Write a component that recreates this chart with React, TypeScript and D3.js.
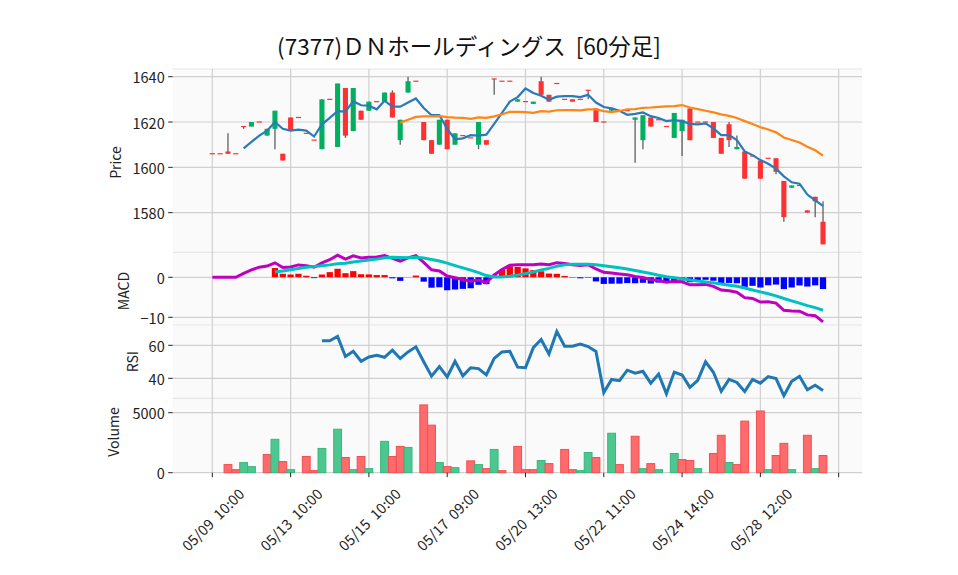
import React from 'react';
import * as d3 from 'd3';

const title = '(7377)ＤＮホールディングス  [60分足]';

const openP = [1606,1606,1607,1606,1618,1618,1620,1614,1617,1606,1622,1622,1615,1612,1608,1630,1609,1635,1616,1625,1625,1629,1629,1633,1612,1633,1638,1620,1612,1610,1621,1610,1614,1613,1610,1612,1639,1638,1638,1629,1629,1628,1638,1632,1637,1630,1630,1630,1634,1626,1620,1625,1625,1625,1621,1612,1622,1621,1618,1613,1616,1626,1620,1620,1620,1613,1619,1608,1607,1605,1603,1604,1604,1594,1591,1592,1581,1587,1576];
const highP = [1606,1606,1615,1606,1618,1620,1620,1617,1625,1606,1622,1622,1615,1612,1630,1630,1637,1635,1635,1625,1629,1629,1633,1634,1621,1640,1638,1620,1612,1621,1621,1615,1614,1613,1620,1612,1639,1638,1638,1630,1629,1629,1640,1632,1637,1630,1630,1630,1634,1626,1620,1626,1625,1625,1622,1623,1622,1621,1618,1624,1621,1626,1620,1620,1620,1613,1620,1614,1607,1605,1603,1604,1604,1594,1592,1592,1581,1587,1585];
const lowP = [1606,1606,1606,1606,1617,1618,1620,1614,1608,1603,1616,1622,1615,1612,1608,1630,1609,1613,1616,1621,1625,1629,1629,1622,1610,1633,1638,1612,1606,1610,1608,1610,1614,1613,1608,1610,1632,1638,1638,1629,1629,1628,1632,1629,1637,1630,1629,1630,1630,1620,1620,1624,1625,1625,1602,1608,1618,1621,1618,1613,1605,1612,1620,1620,1613,1606,1609,1608,1595,1605,1595,1604,1597,1576,1591,1592,1580,1578,1566];
const closeP = [1606,1606,1606,1606,1618,1620,1620,1617,1625,1603,1616,1622,1615,1612,1630,1630,1637,1614,1635,1621,1629,1629,1633,1622,1621,1638,1638,1612,1606,1621,1608,1615,1614,1613,1620,1610,1639,1638,1638,1630,1629,1629,1632,1629,1637,1630,1629,1630,1634,1620,1620,1626,1625,1625,1622,1623,1618,1621,1618,1624,1621,1612,1620,1620,1613,1606,1612,1609,1595,1605,1595,1604,1598,1578,1592,1592,1580,1585,1566];
const volume = [0,0,675,253,843,506,0,1517,2782,927,253,0,1349,169,2023,0,3625,1265,253,1349,337,0,2613,1349,2192,2108,0,5648,3962,843,506,422,0,985,675,337,1939,169,0,2192,253,253,1012,759,0,1939,253,169,1686,1265,0,3288,675,0,3035,337,759,253,0,1602,1096,1012,337,0,1602,3119,843,675,4299,0,5142,253,1433,2445,253,0,3119,337,1433];

const tickIdx = [0, 10, 20, 30, 40, 50, 60, 70, 80];
const tickLabels = ['05/09  10:00', '05/13  10:00', '05/15  10:00', '05/17  09:00', '05/20  13:00', '05/22  11:00', '05/24  14:00', '05/28  12:00', ''];

const priceTicks = [1580, 1600, 1620, 1640];
const macdTicks = [0, -10];
const rsiTicks = [40, 60];
const volTicks = [0, 5000];

function sma(arr: number[], n: number): (number | null)[] {
  return arr.map((_, i) => (i < n - 1 ? null : (d3.mean(arr.slice(i - n + 1, i + 1)) as number)));
}
function ema(arr: number[], span: number): number[] {
  const k = 2 / (span + 1);
  let prev = arr[0];
  return arr.map((v, i) => (prev = i === 0 ? v : prev + k * (v - prev)));
}

const ma5 = sma(closeP, 5);
const ma25 = sma(closeP, 25);
const ema12 = ema(closeP, 12);
const ema26 = ema(closeP, 26);
const macd = ema12.map((v, i) => v - ema26[i]);
const signal = sma(macd, 9);
const hist = macd.map((v, i) => (signal[i] === null ? null : v - (signal[i] as number)));
const rsi: (number | null)[] = closeP.map((_, i) => {
  if (i < 14) return null;
  let g = 0, l = 0;
  for (let j = i - 13; j <= i; j++) {
    const d = closeP[j] - closeP[j - 1];
    if (d > 0) g += d; else l -= d;
  }
  return (100 * g) / (g + l);
});

const FONT = '"Noto Sans CJK JP", "DejaVu Sans", sans-serif';
const X0 = 172.7, X1 = 862;
const P = { top: 69, bot: 252.3 };
const M = { top: 252.3, bot: 325 };
const R = { top: 325, bot: 398.3 };
const V = { top: 398.3, bot: 472.7 };

export default function App() {
  const x = d3.scaleLinear().domain([-5.06, 82.98]).range([X0, X1]);
  const yP = d3.scaleLinear().domain([1562.5, 1643.4]).range([P.bot, P.top]);
  const yM = d3.scaleLinear().domain([-11.93, 6.25]).range([M.bot, M.top]);
  const yR = d3.scaleLinear().domain([27.88, 72.3]).range([R.bot, R.top]);
  const yV = d3.scaleLinear().domain([0, 6200]).range([V.bot, V.top]);
  const step = x(1) - x(0);
  const cw = step * 0.65;

  const lineOf = (ys: d3.ScaleLinear<number, number>) =>
    d3.line<number | null>()
      .defined((d) => d !== null)
      .x((_, i) => x(i))
      .y((d) => ys(d as number));

  const up = '#00b060', down = '#fe3032';
  const grid = '#d0d0d0';

  const yAxis = (ticks: number[], ys: d3.ScaleLinear<number, number>, fmt: (v: number) => string) =>
    ticks.map((t) => (
      <g key={t}>
        <line x1={X0} x2={X1} y1={ys(t)} y2={ys(t)} stroke={grid} strokeWidth={1.2} />
        <line x1={X0 - 4.5} x2={X0} y1={ys(t)} y2={ys(t)} stroke="#222" strokeWidth={1} />
        <text x={X0 - 8} y={ys(t)} textAnchor="end" dominantBaseline="central" fontSize={14.5} fill="#222">
          {fmt(t)}
        </text>
      </g>
    ));

  return (
    <svg width={958} height={575} style={{ position: 'absolute', left: 0, top: 0, fontFamily: FONT }}>
      <rect x={0} y={0} width={958} height={575} fill="#ffffff" />
      <rect x={X0} y={P.top} width={X1 - X0} height={V.bot - P.top} fill="#fafafa" />
      {[P.top, M.top, R.top, V.top].map((y) => (
        <line key={y} x1={X0} x2={X1} y1={y} y2={y} stroke="#e6e6e6" strokeWidth={1.2} />
      ))}
      {tickIdx.map((t) => (
        <line key={t} x1={x(t)} x2={x(t)} y1={P.top} y2={V.bot} stroke={grid} strokeWidth={1.2} />
      ))}
      {yAxis(priceTicks, yP, (v) => String(v))}
      {yAxis(macdTicks, yM, (v) => (v < 0 ? '\u2212' + Math.abs(v) : String(v)))}
      {yAxis(rsiTicks, yR, (v) => String(v))}
      {yAxis(volTicks, yV, (v) => String(v))}

      {/* candles */}
      {closeP.map((c, i) => {
        const o = openP[i];
        const isUp = c > o;
        const col = isUp ? up : down;
        const yt = yP(Math.max(o, c));
        const yb = yP(Math.min(o, c));
        return (
          <g key={i}>
            {highP[i] > lowP[i] && (
              <line x1={x(i)} x2={x(i)} y1={yP(highP[i])} y2={yP(lowP[i])} stroke="#606060" strokeWidth={1.3} />
            )}
            <rect x={x(i) - cw / 2} y={yb - yt < 1.2 ? yt - 0.6 : yt} width={cw} height={Math.max(1.2, yb - yt)} fill={col} />
          </g>
        );
      })}
      <path d={lineOf(yP)(ma5) || ''} fill="none" stroke="#2a7ab8" strokeWidth={2.2} />
      <path d={lineOf(yP)(ma25) || ''} fill="none" stroke="#ff8514" strokeWidth={2.2} />

      {/* MACD */}
      {hist.map((h, i) =>
        h === null ? null : (
          <rect key={i} x={x(i) - step * 0.4} y={Math.min(yM(0), yM(h))} width={step * 0.8}
            height={Math.abs(yM(h) - yM(0))} fill={h >= 0 ? '#ff0000' : '#0000ff'} />
        )
      )}
      <path d={lineOf(yM)(macd) || ''} fill="none" stroke="#c000c0" strokeWidth={3} />
      <path d={lineOf(yM)(signal) || ''} fill="none" stroke="#00c0c0" strokeWidth={3} />

      {/* RSI */}
      <path d={lineOf(yR)(rsi) || ''} fill="none" stroke="#1f77b4" strokeWidth={3} />

      {/* Volume */}
      {volume.map((v, i) => {
        if (v <= 0) return null;
        const isUp = i === 0 ? closeP[0] > openP[0] : closeP[i] > closeP[i - 1];
        return (
          <rect key={i} x={x(i) - step / 2} y={yV(v)} width={step} height={yV(0) - yV(v)}
            fill={isUp ? '#4dc790' : '#fd6b6c'} stroke={isUp ? '#35b87c' : '#f44f50'} strokeWidth={1} />
        );
      })}

      {/* x ticks */}
      {tickIdx.map((t, k) => (
        <g key={t}>
          <line x1={x(t)} x2={x(t)} y1={V.bot} y2={V.bot + 4.5} stroke="#222" strokeWidth={1} />
          {tickLabels[k] && (
            <text transform={`translate(${x(t)},519) rotate(-45)`} textAnchor="middle" dominantBaseline="central"
              fontSize={14.5} fill="#222" style={{ whiteSpace: 'pre' }}>
              {tickLabels[k]}
            </text>
          )}
        </g>
      ))}

      {/* axis titles */}
      <text transform="translate(115,162.5) rotate(-90)" textAnchor="middle" dominantBaseline="central" fontSize={14} fill="#222">Price</text>
      <text transform="translate(123.3,291) rotate(-90)" textAnchor="middle" dominantBaseline="central" fontSize={14} fill="#222">MACD</text>
      <text transform="translate(132.3,361.7) rotate(-90)" textAnchor="middle" dominantBaseline="central" fontSize={14} fill="#222">RSI</text>
      <text transform="translate(113.3,432) rotate(-90)" textAnchor="middle" dominantBaseline="central" fontSize={14} fill="#222">Volume</text>

      <text x={469} y={45} textAnchor="middle" dominantBaseline="central" fontSize={22.5} fill="#111" style={{ whiteSpace: 'pre' }}>
        {title}
      </text>
    </svg>
  );
}
